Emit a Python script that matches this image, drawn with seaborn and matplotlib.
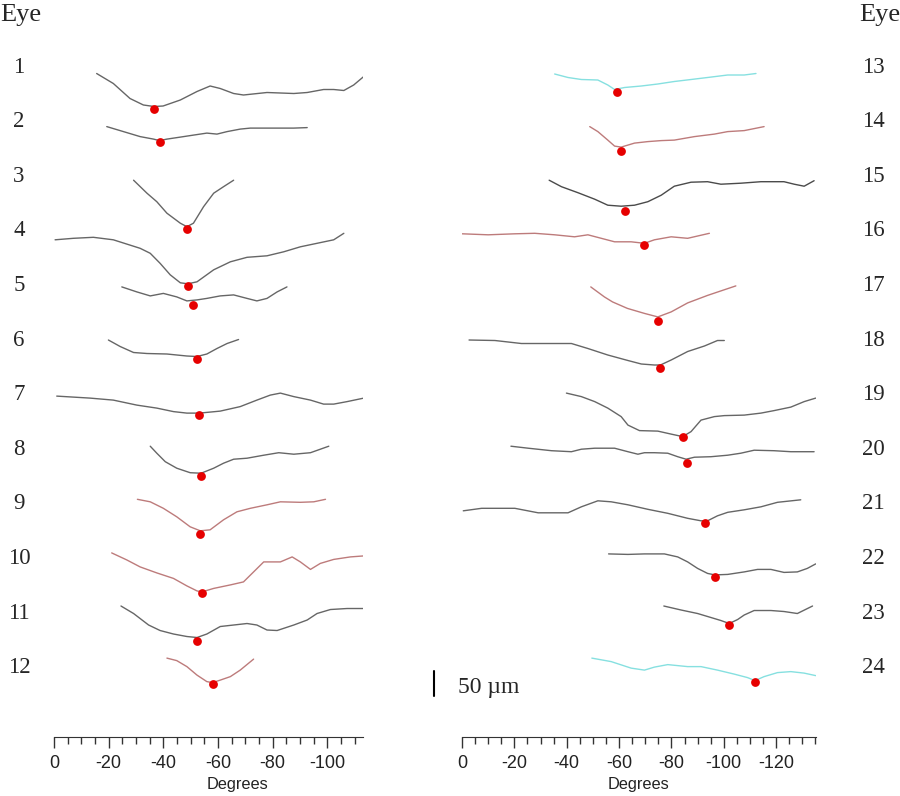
import numpy as np
import pandas as pd
import matplotlib
matplotlib.use('Agg')
import matplotlib.pyplot as plt
import matplotlib.transforms as mtransforms
import seaborn as sns

# foveal thickness profiles, x in degrees, y in um relative to each eye's row
e1_x = [-15.6, -21.7, -27.8, -32.7, -36.6, -39.9, -46.2, -52.3, -57.1, -60.8, -65.7, -69.3, -77.9, -87.7, -92.6, -98.6, -102.3, -106, -109.6, -113.3]
e1_y = [-13, -33, -63, -76, -79, -78, -66, -49, -38, -43, -53, -56, -51, -53, -51, -45, -45, -47, -36, -19]
e2_x = [-19.3, -25.4, -31.5, -36.4, -38.6, -41.3, -46.2, -51, -55.9, -59.6, -63.3, -68.1, -71.8, -80.3, -87.7, -92.6]
e2_y = [-10, -20, -30, -35, -38, -35, -31, -27, -23, -25, -20, -15, -13, -13, -13, -12]
e3_x = [-29.1, -34, -37.6, -41.3, -46.2, -48.6, -51, -54.7, -58.4, -62, -65.7]
e3_y = [-8, -34, -51, -74, -94, -101, -94, -61, -34, -21, -8]
e4_x = [-0.4, -7.1, -14.4, -21.7, -31.5, -35.2, -38.8, -42.5, -46.2, -49, -52.3, -58.4, -64.5, -70.6, -77.9, -84, -90.1, -96.2, -102.3, -106]
e4_y = [-18, -15, -13, -18, -35, -45, -65, -88, -104, -106, -102, -78, -62, -53, -50, -42, -32, -25, -18, -5]
e5_x = [-24.8, -30.3, -35.2, -40, -44.9, -48.6, -52.3, -55.9, -60.8, -65.7, -70.6, -74.2, -77.9, -81.6, -85.2]
e5_y = [-3, -13, -21, -16, -23, -31, -29, -26, -21, -19, -26, -31, -26, -13, -3]
e6_x = [-19.9, -24.2, -29.1, -34, -41.3, -48.6, -52.3, -55.9, -59.6, -63.3, -67.5]
e6_y = [0, -13, -25, -27, -28, -32, -33, -28, -17, -7, 1]
e7_x = [-1, -7.1, -13.2, -21.7, -30.3, -37.6, -43.7, -48.6, -53.2, -60.8, -68.1, -74.2, -79.1, -82.8, -87.7, -93.8, -98.6, -102.3, -107.2, -113.3]
e7_y = [-3, -5, -7, -11, -21, -27, -34, -37, -37, -33, -24, -11, -1, 3, -4, -11, -19, -19, -14, -7]
e8_x = [-35.2, -37.6, -40.7, -44.9, -49.8, -53.8, -58.4, -62, -65.7, -70.6, -76.7, -82.2, -87.7, -93.8, -100.5]
e8_y = [6, -8, -25, -38, -47, -48, -38, -28, -20, -18, -12, -7, -10, -7, 6]
e9_x = [-30.5, -35.2, -40, -44.9, -49.8, -53.5, -57.1, -62, -66.9, -71.8, -77.9, -82.8, -90.1, -95, -99.3]
e9_y = [9, 4, -9, -26, -46, -54, -52, -32, -16, -9, -2, 4, 3, 4, 9]
e10_x = [-21.1, -26.6, -31.5, -37.6, -43.7, -48.6, -52.3, -54.1, -58.4, -64.5, -69.3, -73, -76.7, -82.8, -87.1, -90.1, -93.8, -97.4, -102.3, -108.4, -113.3]
e10_y = [11, -3, -17, -29, -40, -55, -65, -67, -60, -53, -47, -27, -7, -7, 3, -7, -22, -10, -2, 3, 5]
e11_x = [-24.5, -29.1, -34.6, -38.8, -43.7, -48.6, -52.3, -55.9, -60.8, -65.7, -70.6, -74.2, -77.9, -81.6, -87.7, -92.6, -96.2, -101.1, -107.2, -113.3]
e11_y = [14, -1, -24, -35, -42, -47, -49, -42, -27, -24, -21, -24, -34, -35, -24, -14, -1, 7, 9, 9]
e12_x = [-41.3, -44.9, -48.6, -52.3, -55.9, -58, -60.8, -64.5, -68.1, -73]
e12_y = [19, 14, 2, -15, -28, -30, -25, -18, -5, 17]

e13_x = [-35.4, -40.5, -45.6, -51.9, -55.7, -58.3, -62.1, -68.5, -74.8, -81.1, -87.5, -93.8, -101.5, -107.8, -112.3]
e13_y = [-14, -21, -25, -26, -36, -45, -41, -38, -34, -29, -25, -21, -16, -16, -13]
e14_x = [-48.8, -51.9, -55.7, -58.3, -60.8, -65.9, -71, -76.1, -81.1, -88.8, -96.4, -101.5, -107.8, -115.4]
e14_y = [-10, -20, -37, -49, -51, -43, -40, -38, -37, -30, -25, -20, -18, -10]
e15_x = [-33.3, -38, -44.3, -50.7, -55.7, -60.8, -65.9, -71, -76.1, -81.1, -87.5, -93.8, -98.9, -106.5, -114.2, -123, -126.9, -130.7, -134.5]
e15_y = [-8, -21, -33, -46, -58, -60, -58, -51, -38, -20, -12, -11, -16, -14, -11, -11, -16, -20, -9]
e16_x = [-0.1, -10, -20.2, -27.8, -35.4, -43, -48.1, -53.2, -58.3, -64.6, -69.7, -73.5, -79.9, -86.2, -94.5]
e16_y = [-6, -8, -6, -5, -8, -12, -8, -15, -22, -22, -25, -18, -12, -15, -5]
e17_x = [-49.2, -54.4, -57.5, -63.2, -69.7, -74.8, -79.9, -86.2, -93.8, -98.9, -104.6]
e17_y = [-3, -23, -33, -46, -56, -63, -53, -35, -20, -11, -1]
e18_x = [-2.7, -12.6, -22.7, -32.9, -41.8, -48.1, -55.7, -63.4, -68.5, -73.5, -75.8, -79.9, -86.2, -92.6, -97.6, -100.2]
e18_y = [0, -1, -7, -7, -7, -17, -30, -41, -48, -50, -50, -40, -23, -12, -1, -1]
e19_x = [-39.9, -45.6, -50.7, -55.7, -60.8, -63.4, -67.8, -74.8, -79.9, -84.3, -87.5, -91.3, -96.4, -100.2, -107.8, -114.2, -119.2, -125.6, -130.7, -135.1]
e19_y = [3, -4, -14, -27, -44, -61, -72, -73, -79, -84, -74, -51, -44, -42, -41, -37, -32, -25, -14, -7]
e20_x = [-18.7, -25.3, -34.2, -41.8, -45.6, -50.7, -58.3, -63.4, -67.2, -69.7, -73.5, -78.6, -82.4, -85.6, -88.8, -95.1, -101.5, -106.5, -111.6, -119.2, -125.6, -134.5]
e20_y = [6, 2, -3, -5, 0, 2, 2, -5, -10, -7, -7, -8, -15, -20, -16, -15, -12, -8, -2, -3, -5, -5]
e21_x = [-0.5, -7.5, -20.2, -29.1, -40.5, -45.6, -51.9, -57, -63.4, -71, -78.6, -86.2, -91.3, -93.8, -97.6, -101.5, -107.8, -114.2, -120.5, -129.4]
e21_y = [-14, -9, -9, -18, -18, -6, 6, 4, -2, -11, -19, -29, -34, -34, -24, -17, -12, -6, 3, 8]
e22_x = [-56, -63.4, -69.7, -77.3, -82.4, -86.2, -90, -93.8, -96.6, -101.5, -107.8, -112.9, -118, -123, -128.1, -131.9, -135.1]
e22_y = [9, 8, 9, 9, 3, -7, -20, -30, -33, -32, -27, -22, -22, -28, -27, -20, -11]
e23_x = [-77.1, -83.7, -90, -95.1, -98.9, -102.1, -105.3, -107.8, -111.6, -118, -123, -128.1, -133.9]
e23_y = [14, 6, -1, -9, -15, -21, -13, -4, 5, 5, 3, -1, 14]
e24_x = [-49.6, -57, -64.6, -69.7, -73.5, -78.6, -86.2, -91.3, -97.6, -104, -109.1, -111.9, -115.4, -120.5, -125.6, -130.7, -135.1]
e24_y = [19, 12, -1, -5, 1, 6, 2, 2, -5, -13, -20, -26, -18, -10, -8, -11, -16]

# foveal pit (red dot) per eye
pit_x = [-36.6, -38.6, -48.6, -49, -51, -52.3, -53.2, -53.8, -53.5, -54.1, -52.3, -58,
         -59.3, -60.6, -62.1, -69.5, -74.8, -75.8, -84.3, -85.9, -93, -96.6, -102.1, -111.9]
pit_y = [-83, -41, -106, -110, -39, -37, -41, -54, -61, -70, -55, -33,
         -49, -58, -69, -28, -71, -55, -85, -27, -38, -37, -23, -28]

# line colour group per eye
eye_group = ['g', 'g', 'g', 'g', 'g', 'g', 'g', 'g', 'b', 'b', 'g', 'b',
             'c', 'b', 'd', 'b', 'b', 'g', 'g', 'g', 'g', 'g', 'g', 'c']
group_col = {'g': '#666666', 'd': '#4a4a4a', 'b': '#bd7b7b', 'c': '#86e0e0'}

xs = [e1_x, e2_x, e3_x, e4_x, e5_x, e6_x, e7_x, e8_x, e9_x, e10_x, e11_x, e12_x,
      e13_x, e14_x, e15_x, e16_x, e17_x, e18_x, e19_x, e20_x, e21_x, e22_x, e23_x, e24_x]
ys = [e1_y, e2_y, e3_y, e4_y, e5_y, e6_y, e7_y, e8_y, e9_y, e10_y, e11_y, e12_y,
      e13_y, e14_y, e15_y, e16_y, e17_y, e18_y, e19_y, e20_y, e21_y, e22_y, e23_y, e24_y]

row_step = 109.2  # vertical spacing between eyes (um)

rows = []
for i in range(24):
    off = -row_step * (i % 12)
    for x, y in zip(xs[i], ys[i]):
        rows.append({'eye': i + 1, 'deg': x, 'y': y + off, 'side': i // 12})
df = pd.DataFrame(rows)
pits = pd.DataFrame({'eye': range(1, 25), 'deg': pit_x,
                     'y': [pit_y[i] - row_step * (i % 12) for i in range(24)],
                     'side': [i // 12 for i in range(24)]})
pal = {i + 1: group_col[eye_group[i]] for i in range(24)}

sns.set_style('ticks')
plt.rcParams['axes.unicode_minus'] = False
plt.rcParams['font.family'] = ['Liberation Sans', 'DejaVu Sans']

fig = plt.figure(figsize=(9, 7.96), dpi=100)
axL = fig.add_axes([0.06, 0.0741, 0.3433, 0.9259])
axR = fig.add_axes([0.5133, 0.0741, 0.3933, 0.9259])

serif = ['Liberation Serif', 'DejaVu Serif']
for side, ax, xmax, lab_x, xlab_pos in [(0, axL, -113, 0.021, 0.595), (1, axR, -135.2, 0.9705, 0.5)]:
    sns.lineplot(data=df[df.side == side], x='deg', y='y', hue='eye', palette=pal,
                 estimator=None, sort=False, legend=False, lw=1.0, ax=ax)
    sns.scatterplot(data=pits[pits.side == side], x='deg', y='y', color='#e60000',
                    s=40, linewidth=0, zorder=4, ax=ax)
    ax.set_xlim(0, xmax)
    ax.set_ylim(-1340, 134)
    ax.set_xticks(np.arange(0, xmax - 1, -20))
    ax.set_xticks(np.arange(0, xmax - 1, -5), minor=True)
    ax.set_xticklabels([str(int(t)) for t in np.arange(0, xmax - 1, -20)])
    ax.tick_params(axis='x', which='major', length=8, width=1, color='#333333',
                   labelsize=13, labelcolor='#222222', pad=5)
    ax.tick_params(axis='x', which='minor', length=5, width=1, color='#333333')
    ax.set_yticks([])
    ax.set_ylabel('')
    ax.set_xlabel('Degrees', fontsize=11.8, color='#222222', labelpad=2)
    ax.xaxis.set_label_coords(xlab_pos, -0.054)
    sns.despine(ax=ax, left=True)
    ax.spines['bottom'].set_color('#333333')
    ax.set_facecolor('none')

    tr = mtransforms.blended_transform_factory(fig.transFigure, ax.transData)
    for k in range(12):
        ax.text(lab_x, -row_step * k, str(side * 12 + k + 1), transform=tr,
                ha='center', va='center', fontsize=16.5, family=serif, clip_on=False)

trL = mtransforms.blended_transform_factory(fig.transFigure, axL.transData)
axL.text(0.0, 104, 'Eye', transform=trL, ha='left', va='center', fontsize=19, family=serif)
axL.text(1.0, 104, 'Eye', transform=trL, ha='right', va='center', fontsize=19, family=serif)

# 50 um scale bar
axL.plot([0.482, 0.482], [-1208, -1258], transform=trL, color='black', lw=1.5, clip_on=False)
axL.text(0.509, -1240, '50 \u00b5m', transform=trL, ha='left', va='center',
         fontsize=17, family=serif)

fig.savefig('out.png', dpi=100, facecolor='white')
